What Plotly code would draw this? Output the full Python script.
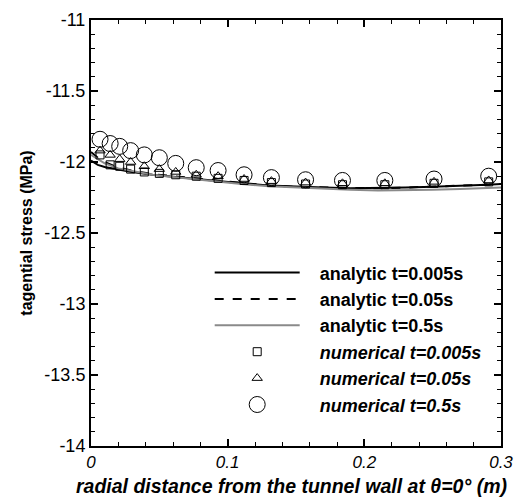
import plotly.graph_objects as go

# analytic curves
x_line = [0, 0.005, 0.01, 0.02, 0.03, 0.045, 0.06, 0.075, 0.09, 0.11, 0.13, 0.15,
          0.17, 0.19, 0.21, 0.23, 0.25, 0.27, 0.29, 0.3]
analytic_0005 = [-11.99, -12.02, -12.035, -12.055, -12.07, -12.09, -12.105, -12.12, -12.135,
                 -12.15, -12.165, -12.175, -12.18, -12.185, -12.185, -12.18, -12.175,
                 -12.17, -12.16, -12.155]
analytic_005 = [-11.93, -11.97, -12.0, -12.04, -12.06, -12.085, -12.1, -12.115, -12.13,
                -12.15, -12.165, -12.175, -12.18, -12.185, -12.185, -12.18, -12.175,
                -12.17, -12.16, -12.155]
analytic_05 = [-11.95, -11.98, -12.01, -12.045, -12.065, -12.09, -12.105, -12.12, -12.14,
               -12.155, -12.17, -12.18, -12.19, -12.195, -12.2, -12.2, -12.195,
               -12.19, -12.185, -12.18]

# numerical points
x_num = [0.0066, 0.014, 0.021, 0.029, 0.039, 0.05, 0.062, 0.077, 0.093, 0.112,
         0.132, 0.157, 0.184, 0.215, 0.251, 0.291]
num_0005 = [-11.95, -12.02, -12.03, -12.05, -12.07, -12.08, -12.09, -12.10, -12.115,
            -12.13, -12.145, -12.155, -12.16, -12.16, -12.15, -12.14]
num_005 = [-11.92, -11.95, -11.98, -12.00, -12.03, -12.05, -12.07, -12.09, -12.10,
           -12.12, -12.135, -12.145, -12.15, -12.15, -12.14, -12.13]
num_05 = [-11.84, -11.87, -11.89, -11.92, -11.95, -11.97, -12.01, -12.04, -12.06,
          -12.09, -12.11, -12.125, -12.13, -12.13, -12.12, -12.10]

x_tickvals = [0, 0.1, 0.2, 0.3]
x_ticktext = ["<i>0</i>", "<i>0.1</i>", "<i>0.2</i>", "<i>0.3</i>"]
y_tickvals = [-14, -13.5, -13, -12.5, -12, -11.5, -11]
y_ticktext = ["-14", "-13.5", "-13", "-12.5", "-12", "-11.5", "-11"]

FONT = "Liberation Sans, Arial, sans-serif"
PAD = "&nbsp;&nbsp;&nbsp;"

fig = go.Figure()
fig.add_trace(go.Scatter(x=x_line, y=analytic_0005, mode="lines",
                         line=dict(color="black", width=2),
                         name=PAD + "<b>analytic t=0.005s</b>", legendgroup="a"))
fig.add_trace(go.Scatter(x=x_line, y=analytic_005, mode="lines",
                         line=dict(color="black", width=2, dash="dash"),
                         name=PAD + "<b>analytic t=0.05s</b>", legendgroup="b"))
fig.add_trace(go.Scatter(x=x_line, y=analytic_05, mode="lines",
                         line=dict(color="#8a8a8a", width=2),
                         name=PAD + "<b>analytic t=0.5s</b>", legendgroup="c"))
fig.add_trace(go.Scatter(x=x_num, y=num_0005, mode="markers",
                         marker=dict(symbol="square-open", size=8, color="black",
                                     line=dict(width=1)),
                         name=PAD + "<b><i>numerical t=0.005s</i></b>", legendgroup="d"))
fig.add_trace(go.Scatter(x=x_num, y=num_005, mode="markers",
                         marker=dict(symbol="triangle-up-open", size=9, color="black",
                                     line=dict(width=1)),
                         name=PAD + "<b><i>numerical t=0.05s</i></b>", legendgroup="e"))
fig.add_trace(go.Scatter(x=x_num, y=num_05, mode="markers",
                         marker=dict(symbol="circle-open", size=16, color="black",
                                     line=dict(width=1)),
                         name=PAD + "<b><i>numerical t=0.5s</i></b>", legendgroup="f"))

axis_common = dict(
    showline=True, linecolor="black", linewidth=2, mirror="ticks",
    ticks="inside", ticklen=7, tickwidth=2, tickcolor="black",
    showgrid=False, zeroline=False, automargin=False,
    ticklabeloverflow="allow",
)

fig.update_xaxes(
    range=[0, 0.3], tickvals=x_tickvals, ticktext=x_ticktext,
    minor=dict(ticks="inside", dtick=0.02, ticklen=4, tickcolor="black", tickwidth=1),
    tickfont=dict(size=17, family=FONT, color="black"),
    **axis_common,
)
fig.update_yaxes(
    range=[-14, -11], tickvals=y_tickvals, ticktext=y_ticktext,
    minor=dict(ticks="inside", dtick=0.1, ticklen=4, tickcolor="black", tickwidth=1),
    tickfont=dict(size=18, family=FONT, color="black"),
    title=dict(text="<b>tagential stress (MPa)</b>",
               font=dict(size=16, family=FONT, color="black"), standoff=8),
    **axis_common,
)

fig.add_annotation(
    text="<b><i>radial distance from the tunnel wall at θ=0° (m)</i></b>",
    xref="paper", yref="paper", x=0.49, y=-0.095,
    xanchor="center", yanchor="middle", showarrow=False,
    font=dict(size=19.5, family=FONT, color="black"),
)

# page body has an 8px margin, so the figure is sized to fill the rest of the window
fig.update_layout(
    width=520, height=492,
    margin=dict(l=83, r=27, t=12, b=54),
    paper_bgcolor="white", plot_bgcolor="white",
    font=dict(family=FONT, color="black"),
    legend=dict(x=0.2895, y=0.45, xanchor="left", yanchor="top",
                bgcolor="rgba(0,0,0,0)", itemwidth=85, tracegroupgap=0,
                font=dict(size=18, family=FONT, color="black")),
)

fig.write_html("out.html")
